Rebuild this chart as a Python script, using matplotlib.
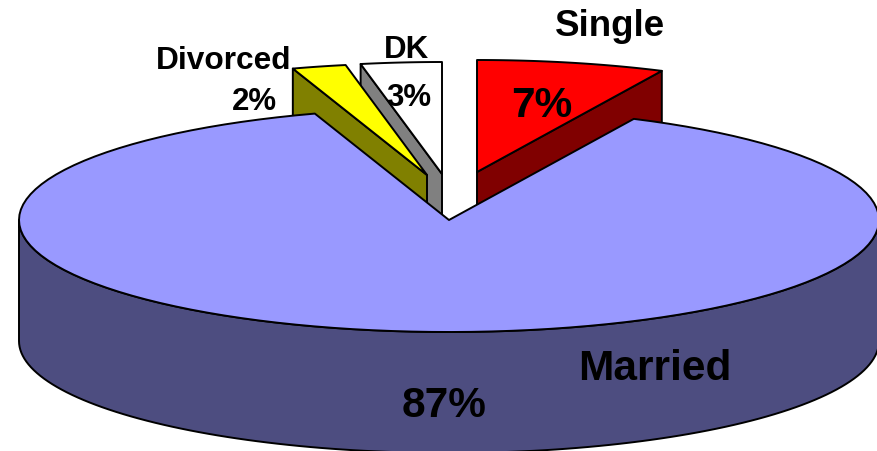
import numpy as np
import matplotlib
matplotlib.use('Agg')
import matplotlib.pyplot as plt
from matplotlib.patches import Polygon

plt.rcParams['font.family'] = ['Liberation Sans', 'DejaVu Sans']

# Slices in clockwise order, starting from twelve o'clock.
categories = ['Single', 'Married', 'Divorced', 'DK']
percents = [7, 87, 2, 3]
percent_labels = ['7%', '87%', '2%', '3%']

top_colours = {'Single': '#ff0000', 'Married': '#9999ff',
               'Divorced': '#ffff00', 'DK': '#ffffff'}
wall_colours = {'Single': '#800000', 'Married': '#4d4d80',
                'Divorced': '#808000', 'DK': '#808080'}

# Pie centre of each slice in pixels, once pulled out of the pie.
centres = {'Single': (477, 173), 'Married': (449, 221),
           'Divorced': (427, 176), 'DK': (442, 175)}

RX, RY = 430, 112
DEPTH = 121
EDGE = dict(edgecolor='black', linewidth=1.4, joinstyle='round')


def slice_angles(values):
    # Start and end angle of each slice, in degrees clockwise from the top.
    ends = np.cumsum(values) / np.sum(values) * 360
    starts = np.concatenate(([0], ends[:-1]))
    return dict(zip(categories, zip(starts, ends)))


def rim(name, start, end, n=120):
    cx, cy = centres[name]
    t = np.radians(np.linspace(start, end, n))
    return np.column_stack((cx + RX * np.sin(t), cy - RY * np.cos(t)))


def draw_cut_wall(ax, name, angle):
    # Flat face exposed along one straight edge of a slice.
    cx, cy = centres[name]
    tip = rim(name, angle, angle, 1)[0]
    pts = [(cx, cy), tip, (tip[0], tip[1] + DEPTH), (cx, cy + DEPTH)]
    ax.add_patch(Polygon(pts, facecolor=wall_colours[name], **EDGE))


def draw_top(ax, name, start, end):
    pts = np.vstack((centres[name], rim(name, start, end)))
    ax.add_patch(Polygon(pts, facecolor=top_colours[name], **EDGE))


def draw_front_wall(ax, name, start, end):
    arc = rim(name, start, end)
    pts = np.vstack((arc, arc[::-1] + (0, DEPTH)))
    ax.add_patch(Polygon(pts, facecolor=wall_colours[name], **EDGE))


fig = plt.figure(figsize=(8.78, 4.52), dpi=100)
ax = fig.add_axes([0, 0, 1, 1])
ax.set_xlim(0, 878)
ax.set_ylim(452, 0)
ax.axis('off')

angles = slice_angles(percents)

# Back slices first, the big slice goes over their lower parts.
draw_cut_wall(ax, 'Single', angles['Single'][1])
draw_top(ax, 'Single', *angles['Single'])
draw_cut_wall(ax, 'DK', angles['DK'][0])
draw_top(ax, 'DK', *angles['DK'])
draw_cut_wall(ax, 'Divorced', angles['Divorced'][0])
draw_top(ax, 'Divorced', *angles['Divorced'])

draw_front_wall(ax, 'Married', 90, 270)
draw_top(ax, 'Married', *angles['Married'])

labels = [(610, 27, 26.5, categories[0]),
          (655, 369, 30.5, categories[1]),
          (224, 61, 22.8, categories[2]),
          (407, 50, 22.5, categories[3]),
          (542, 106, 30.5, percent_labels[0]),
          (444, 406, 30.5, percent_labels[1]),
          (254, 102, 22.5, percent_labels[2]),
          (409, 98, 22.5, percent_labels[3])]
for x, y, size, text in labels:
    ax.text(x, y, text, ha='center', va='center', fontsize=size,
            fontweight='bold', color='black')

fig.savefig('out.png', dpi=100)
